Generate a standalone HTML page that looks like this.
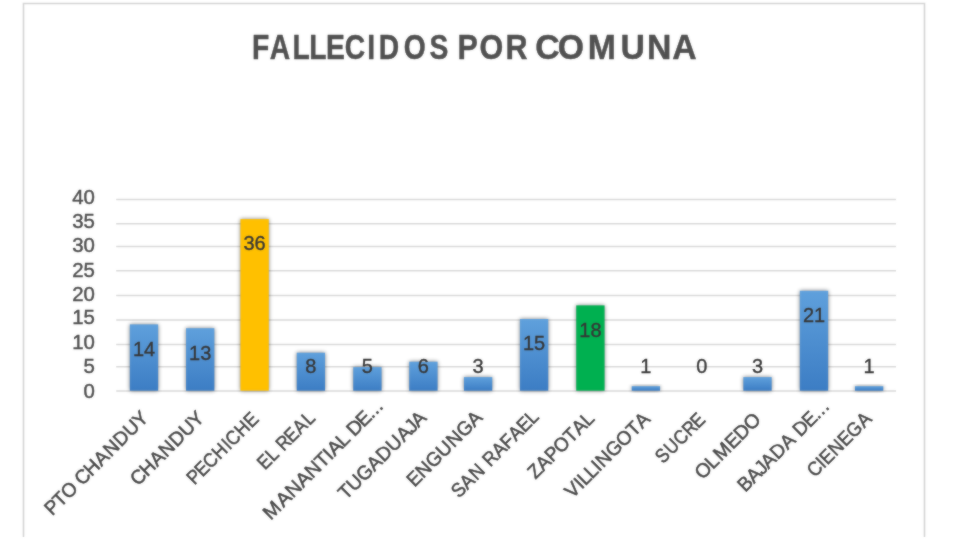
<!DOCTYPE html>
<html lang="es">
<head>
<meta charset="utf-8">
<title>FALLECIDOS POR COMUNA</title>
<style>
html,body{margin:0;padding:0;background:#fff;}
body{width:960px;height:540px;overflow:hidden;}
svg{display:block;}
text{font-family:"Liberation Sans", sans-serif;}
</style>
</head>
<body>
<svg width="960" height="540" viewBox="0 0 960 540">
<defs>
<linearGradient id="gb" x1="0" y1="0" x2="0" y2="1"><stop offset="0" stop-color="#5FA0DC"/><stop offset="1" stop-color="#3C7DC4"/></linearGradient>
<filter id="sh" x="-40%" y="-40%" width="180%" height="180%"><feGaussianBlur stdDeviation="2.2"/></filter>
<filter id="soft" x="-5%" y="-5%" width="110%" height="110%" color-interpolation-filters="sRGB"><feGaussianBlur in="SourceGraphic" stdDeviation="0.9" result="b"/><feComposite in="b" in2="SourceGraphic" operator="arithmetic" k1="0" k2="0.45" k3="0.55" k4="0"/></filter>
</defs>
<rect x="0" y="0" width="960" height="540" fill="#ffffff"/>
<g filter="url(#soft)">
<path d="M23.5 537 V3.5 H924.5 V537" fill="none" stroke="#d4d4d4" stroke-width="1.6"/>
<g font-size="34.8" font-weight="bold" fill="#505050" stroke="#505050" stroke-width="0.45" stroke-linejoin="round">
<text transform="translate(0,59.30) scale(0.8118,1)" x="310.42 332.38 360.21 381.03 401.72 424.75 452.49 466.50 497.30 529.05" y="0">FALLECIDOS </text>
<text transform="translate(0,59.30) scale(0.8765,1)" x="521.94 547.15 576.62" y="0">POR </text>
<text transform="translate(0,59.30) scale(0.9705,1)" x="551.51 574.70 605.53 639.34 666.54 692.80" y="0">COMUNA</text>
</g>
<g stroke="#d9d9d9" stroke-width="1.5">
<line x1="116.2" y1="390.90" x2="896.0" y2="390.90"/>
<line x1="116.2" y1="366.70" x2="896.0" y2="366.70"/>
<line x1="116.2" y1="344.40" x2="896.0" y2="344.40"/>
<line x1="116.2" y1="319.90" x2="896.0" y2="319.90"/>
<line x1="116.2" y1="295.40" x2="896.0" y2="295.40"/>
<line x1="116.2" y1="270.70" x2="896.0" y2="270.70"/>
<line x1="116.2" y1="246.40" x2="896.0" y2="246.40"/>
<line x1="116.2" y1="223.80" x2="896.0" y2="223.80"/>
<line x1="116.2" y1="199.60" x2="896.0" y2="199.60"/>
</g>
<g font-size="20.8" fill="#4d4d4d" stroke="#4d4d4d" stroke-width="0.45" text-anchor="end">
<text transform="translate(94.90,397.60) scale(0.980,1)">0</text>
<text transform="translate(94.90,373.00) scale(0.980,1)">5</text>
<text transform="translate(94.90,348.80) scale(0.980,1)">10</text>
<text transform="translate(94.90,323.90) scale(0.980,1)">15</text>
<text transform="translate(94.90,301.30) scale(0.980,1)">20</text>
<text transform="translate(94.90,276.80) scale(0.980,1)">25</text>
<text transform="translate(94.90,252.30) scale(0.980,1)">30</text>
<text transform="translate(94.90,228.20) scale(0.980,1)">35</text>
<text transform="translate(94.90,203.80) scale(0.980,1)">40</text>
</g>
<g>
<rect x="129.85" y="324.40" width="28.30" height="66.30" fill="#000" opacity="0.5" filter="url(#sh)"/>
<rect x="129.85" y="324.40" width="28.30" height="66.30" fill="url(#gb)"/>
<rect x="186.05" y="328.20" width="28.30" height="62.50" fill="#000" opacity="0.5" filter="url(#sh)"/>
<rect x="186.05" y="328.20" width="28.30" height="62.50" fill="url(#gb)"/>
<rect x="240.45" y="219.10" width="28.30" height="171.60" fill="#000" opacity="0.5" filter="url(#sh)"/>
<rect x="240.45" y="219.10" width="28.30" height="171.60" fill="#FFC000"/>
<rect x="296.75" y="352.70" width="28.30" height="38.00" fill="#000" opacity="0.5" filter="url(#sh)"/>
<rect x="296.75" y="352.70" width="28.30" height="38.00" fill="url(#gb)"/>
<rect x="353.25" y="367.10" width="28.30" height="23.60" fill="#000" opacity="0.5" filter="url(#sh)"/>
<rect x="353.25" y="367.10" width="28.30" height="23.60" fill="url(#gb)"/>
<rect x="409.25" y="361.70" width="28.30" height="29.00" fill="#000" opacity="0.5" filter="url(#sh)"/>
<rect x="409.25" y="361.70" width="28.30" height="29.00" fill="url(#gb)"/>
<rect x="463.95" y="377.10" width="28.30" height="13.60" fill="#000" opacity="0.5" filter="url(#sh)"/>
<rect x="463.95" y="377.10" width="28.30" height="13.60" fill="url(#gb)"/>
<rect x="519.95" y="319.00" width="28.30" height="71.70" fill="#000" opacity="0.5" filter="url(#sh)"/>
<rect x="519.95" y="319.00" width="28.30" height="71.70" fill="url(#gb)"/>
<rect x="576.25" y="305.40" width="28.30" height="85.30" fill="#000" opacity="0.5" filter="url(#sh)"/>
<rect x="576.25" y="305.40" width="28.30" height="85.30" fill="#00B050"/>
<rect x="631.75" y="386.20" width="28.30" height="4.50" fill="#000" opacity="0.5" filter="url(#sh)"/>
<rect x="631.75" y="386.20" width="28.30" height="4.50" fill="url(#gb)"/>
<rect x="743.35" y="377.10" width="28.30" height="13.60" fill="#000" opacity="0.5" filter="url(#sh)"/>
<rect x="743.35" y="377.10" width="28.30" height="13.60" fill="url(#gb)"/>
<rect x="799.85" y="290.80" width="28.30" height="99.90" fill="#000" opacity="0.5" filter="url(#sh)"/>
<rect x="799.85" y="290.80" width="28.30" height="99.90" fill="url(#gb)"/>
<rect x="854.95" y="386.20" width="28.30" height="4.50" fill="#000" opacity="0.5" filter="url(#sh)"/>
<rect x="854.95" y="386.20" width="28.30" height="4.50" fill="url(#gb)"/>
</g>
<g font-size="20.8" fill="#363636" stroke="#363636" stroke-width="0.38" text-anchor="middle">
<text transform="translate(144.00,355.70) scale(0.960,1)">14</text>
<text transform="translate(200.20,359.50) scale(0.960,1)">13</text>
<text transform="translate(254.60,250.40) scale(0.960,1)">36</text>
<text transform="translate(310.90,372.80) scale(0.960,1)">8</text>
<text transform="translate(367.40,372.80) scale(0.960,1)">5</text>
<text transform="translate(423.40,372.80) scale(0.960,1)">6</text>
<text transform="translate(478.10,372.80) scale(0.960,1)">3</text>
<text transform="translate(534.10,350.30) scale(0.960,1)">15</text>
<text transform="translate(590.40,336.70) scale(0.960,1)">18</text>
<text transform="translate(645.90,372.80) scale(0.960,1)">1</text>
<text transform="translate(701.90,372.80) scale(0.960,1)">0</text>
<text transform="translate(757.50,372.80) scale(0.960,1)">3</text>
<text transform="translate(814.00,322.10) scale(0.960,1)">21</text>
<text transform="translate(869.10,372.80) scale(0.960,1)">1</text>
</g>
<g font-size="19.6" fill="#474747" stroke="#474747" stroke-width="0.5">
<text transform="translate(149.25,419.25) rotate(-45) scale(0.9718,1)" x="-141.3 -129.2 -117.4 -102.6 -97.6 -84.1 -69.6 -55.8 -41.0 -26.4 -12.7">PTO CHANDUY</text>
<text transform="translate(205.00,419.50) rotate(-45) scale(0.9785,1)" x="-97.0 -83.6 -69.1 -55.5 -40.8 -26.3 -12.6">CHANDUY</text>
<text transform="translate(259.50,420.50) rotate(-45) scale(0.9020,1)" x="-101.8 -89.4 -77.0 -62.5 -47.2 -41.6 -27.1 -12.6">PECHICHE</text>
<text transform="translate(316.25,419.25) rotate(-45) scale(0.8811,1)" x="-82.1 -69.1 -58.0 -52.3 -38.9 -25.1 -11.0">EL REAL</text>
<text transform="translate(384.50,407.00) rotate(-45) scale(1.0208,1)" x="-157.5 -139.9 -126.8 -112.7 -99.6 -85.9 -74.4 -69.0 -56.7 -46.6 -41.8 -29.1 -17.0 -11.4 -5.8">MANANTIAL DE...</text>
<text transform="translate(427.50,419.00) rotate(-45) scale(0.9725,1)" x="-118.6 -106.5 -92.2 -77.0 -63.6 -49.0 -34.2 -22.0 -13.2">TUGADUAJA</text>
<text transform="translate(483.50,418.75) rotate(-45) scale(0.9759,1)" x="-100.0 -87.3 -72.9 -57.6 -42.7 -28.3 -13.2">ENGUNGA</text>
<text transform="translate(539.75,418.00) rotate(-45) scale(0.9249,1)" x="-123.5 -110.6 -96.2 -81.6 -75.7 -61.7 -48.4 -36.2 -23.2 -10.8">SAN RAFAEL</text>
<text transform="translate(595.50,419.75) rotate(-45) scale(0.9517,1)" x="-89.2 -77.3 -64.0 -51.3 -35.9 -23.7 -10.6">ZAPOTAL</text>
<text transform="translate(651.25,420.25) rotate(-45) scale(0.9747,1)" x="-114.4 -101.0 -95.8 -86.0 -75.6 -69.5 -55.1 -40.1 -25.1 -13.2">VILLINGOTA</text>
<text transform="translate(706.25,421.00) rotate(-45) scale(0.8809,1)" x="-69.3 -55.5 -40.4 -26.1 -12.7">SUCRE</text>
<text transform="translate(762.00,420.75) rotate(-45) scale(0.9952,1)" x="-84.7 -70.1 -58.3 -41.4 -29.3 -15.3">OLMEDO</text>
<text transform="translate(830.50,407.50) rotate(-45) scale(0.9737,1)" x="-124.0 -111.0 -98.8 -90.1 -76.6 -62.2 -49.1 -43.5 -30.2 -17.7 -11.9 -6.0">BAJADA DE...</text>
<text transform="translate(873.00,419.75) rotate(-45) scale(0.9221,1)" x="-89.5 -75.5 -70.2 -56.8 -42.3 -29.5 -13.6">CIENEGA</text>
</g>
</g>
</svg>
</body>
</html>
